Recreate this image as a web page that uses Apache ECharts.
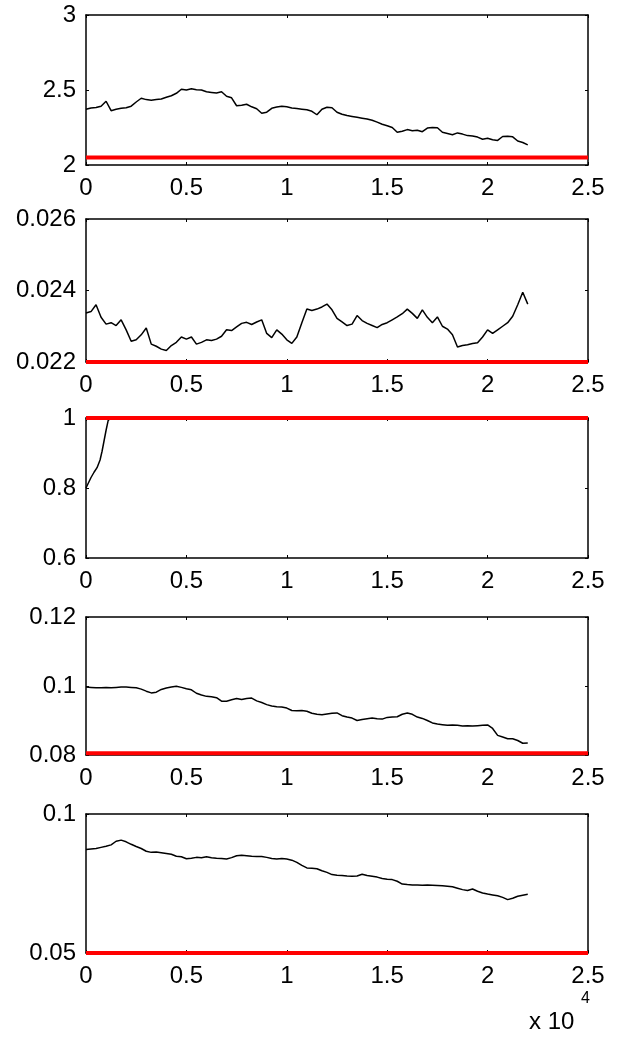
<!DOCTYPE html>
<html>
<head>
<meta charset="utf-8">
<title>subplots</title>
<script src="https://cdn.jsdelivr.net/npm/echarts@6.0.0/dist/echarts.min.js"></script>
<style>
html, body { margin: 0; padding: 0; background: #fff; }
#main { width: 621px; height: 1044px; }
</style>
</head>
<body>
<div id="main"></div>
<script>
// sample positions (shown on the axis as x 10^4)
var sampleX = [0,250,500,750,1000,1250,1500,1750,2000,2250,2500,2750,3000,3250,3500,3750,4000,4250,4500,4750,
  5000,5250,5500,5750,6000,6250,6500,6750,7000,7250,7500,7750,8000,8250,8500,8750,9000,9250,9500,9750,
  10000,10250,10500,10750,11000,11250,11500,11750,12000,12250,12500,12750,13000,13250,13500,13750,14000,14250,14500,14750,
  15000,15250,15500,15750,16000,16250,16500,16750,17000,17250,17500,17750,18000,18250,18500,18750,19000,19250,19500,19750,
  20000,20250,20500,20750,21000,21250,21500,21750,22000];

var panel1 = [2.372,2.380,2.384,2.392,2.425,2.362,2.372,2.378,2.382,2.392,
  2.420,2.445,2.436,2.432,2.436,2.440,2.452,2.462,2.478,2.505,
  2.500,2.508,2.502,2.500,2.488,2.484,2.480,2.488,2.458,2.448,
  2.395,2.398,2.405,2.388,2.375,2.345,2.352,2.378,2.386,2.392,
  2.388,2.380,2.376,2.372,2.368,2.358,2.335,2.372,2.385,2.382,
  2.352,2.338,2.330,2.324,2.318,2.312,2.306,2.298,2.286,2.272,
  2.262,2.250,2.218,2.225,2.236,2.228,2.232,2.222,2.246,2.250,
  2.248,2.218,2.210,2.202,2.214,2.206,2.196,2.194,2.186,2.172,
  2.178,2.168,2.164,2.190,2.192,2.188,2.160,2.150,2.134];

var panel2 = [0.02337,0.02341,0.02360,0.02325,0.02306,0.02310,0.02302,0.02318,0.02290,0.02258,
  0.02262,0.02276,0.02295,0.02250,0.02244,0.02236,0.02232,0.02246,0.02255,0.02270,
  0.02264,0.02270,0.02250,0.02255,0.02262,0.02260,0.02264,0.02272,0.02290,0.02288,
  0.02298,0.02308,0.02311,0.02305,0.02312,0.02318,0.02280,0.02268,0.02290,0.02278,
  0.02262,0.02252,0.02270,0.02310,0.02348,0.02344,0.02348,0.02354,0.02362,0.02346,
  0.02322,0.02312,0.02302,0.02306,0.02330,0.02316,0.02308,0.02302,0.02296,0.02305,
  0.02310,0.02318,0.02326,0.02335,0.02348,0.02336,0.02322,0.02346,0.02325,0.02310,
  0.02326,0.02300,0.02292,0.02276,0.02242,0.02246,0.02248,0.02252,0.02254,0.02270,
  0.02290,0.02280,0.02290,0.02300,0.02310,0.02328,0.02360,0.02395,0.02362];

// panel 3 climbs to 1 almost at once, then sits under the red line
var panel3X = [0,100,250,400,550,700,800,900,1000,1100,1200,22000];
var panel3 = [0.800,0.812,0.830,0.845,0.858,0.880,0.905,0.935,0.965,0.992,1.0,1.0];

var panel4 = [0.0997,0.0996,0.0995,0.0995,0.0996,0.0995,0.0996,0.0997,0.0997,0.0996,
  0.0995,0.0991,0.0985,0.0980,0.0982,0.0990,0.0994,0.0997,0.0999,0.0996,
  0.0992,0.0989,0.0979,0.0974,0.0970,0.0969,0.0966,0.0956,0.0956,0.0960,
  0.0964,0.0961,0.0964,0.0965,0.0957,0.0952,0.0946,0.0942,0.0940,0.0939,
  0.0936,0.0929,0.0928,0.0929,0.0927,0.0921,0.0918,0.0917,0.0919,0.0921,
  0.0922,0.0914,0.0910,0.0907,0.0900,0.0903,0.0905,0.0907,0.0905,0.0904,
  0.0909,0.0910,0.0911,0.0918,0.0922,0.0918,0.0910,0.0906,0.0900,0.0893,
  0.0890,0.0888,0.0886,0.0887,0.0886,0.0884,0.0885,0.0884,0.0885,0.0886,
  0.0887,0.0877,0.0857,0.0852,0.0847,0.0847,0.0842,0.0834,0.0835];

var panel5 = [0.0872,0.0874,0.0876,0.0880,0.0884,0.0889,0.0902,0.0906,0.0900,0.0891,
  0.0883,0.0876,0.0866,0.0862,0.0863,0.0861,0.0858,0.0855,0.0848,0.0846,
  0.0839,0.0841,0.0844,0.0843,0.0846,0.0843,0.0841,0.0840,0.0838,0.0843,
  0.0850,0.0852,0.0850,0.0848,0.0847,0.0847,0.0844,0.0840,0.0838,0.0840,
  0.0838,0.0834,0.0826,0.0815,0.0806,0.0805,0.0803,0.0796,0.0790,0.0782,
  0.0780,0.0779,0.0777,0.0776,0.0777,0.0783,0.0779,0.0776,0.0773,0.0768,
  0.0765,0.0764,0.0758,0.0748,0.0746,0.0745,0.0745,0.0744,0.0745,0.0744,
  0.0743,0.0742,0.0740,0.0738,0.0733,0.0728,0.0725,0.0730,0.0722,0.0716,
  0.0712,0.0709,0.0706,0.0700,0.0692,0.0697,0.0704,0.0708,0.0711];

// red reference levels, one per panel
var refLevels = [2.05, 0.022, 1, 0.0805, 0.05];

// axis ranges
var xRange = [0, 25000];
var xStep = 5000;
var yMin = [2, 0.022, 0.6, 0.08, 0.05];
var yMax = [3, 0.026, 1, 0.12, 0.1];
var yStep = [0.5, 0.002, 0.2, 0.02, 0.05];

// layout
var gridTop = [15, 219, 418, 617, 814];
var gridHeight = [150, 143, 140, 138, 139];
var FS = 24;
var FONT = "'Liberation Sans', Arial, sans-serif";

var curves = [
  sampleX.map(function (x, i) { return [x, panel1[i]]; }),
  sampleX.map(function (x, i) { return [x, panel2[i]]; }),
  panel3X.map(function (x, i) { return [x, panel3[i]]; }),
  sampleX.map(function (x, i) { return [x, panel4[i]]; }),
  sampleX.map(function (x, i) { return [x, panel5[i]]; })
];

var grids = [], xAxes = [], yAxes = [], series = [];
var lineStyle = { color: '#000', width: 1.5 };

for (var i = 0; i < 5; i++) {
  grids.push({ left: 86, right: 33, top: gridTop[i], height: gridHeight[i], outerBoundsMode: 'none' });

  // bottom axis with labels, top axis only for the mirrored ticks
  ['bottom', 'top'].forEach(function (pos) {
    xAxes.push({
      gridIndex: i, type: 'value', position: pos,
      min: xRange[0], max: xRange[1], interval: xStep,
      axisLine: { show: true, onZero: false, lineStyle: lineStyle },
      axisTick: { show: true, inside: true, length: 3, lineStyle: { color: '#000', width: 1 } },
      axisLabel: {
        show: pos === 'bottom', color: '#000', fontSize: FS, fontFamily: FONT, margin: 11,
        formatter: function (v) { return String(v / 10000); }
      },
      splitLine: { show: false }
    });
  });

  ['left', 'right'].forEach(function (pos) {
    yAxes.push({
      gridIndex: i, type: 'value', position: pos,
      min: yMin[i], max: yMax[i], interval: yStep[i],
      axisLine: { show: true, onZero: false, lineStyle: lineStyle },
      axisTick: { show: true, inside: true, length: 3, lineStyle: { color: '#000', width: 1 } },
      axisLabel: { show: pos === 'left', color: '#000', fontSize: FS, fontFamily: FONT, margin: 10 },
      splitLine: { show: false }
    });
  });

  series.push({
    type: 'line', xAxisIndex: i * 2, yAxisIndex: i * 2,
    data: curves[i], symbol: 'none',
    lineStyle: { color: '#000', width: 1.5 }
  });
  series.push({
    type: 'line', xAxisIndex: i * 2, yAxisIndex: i * 2,
    data: [[xRange[0], refLevels[i]], [xRange[1], refLevels[i]]],
    symbol: 'none', clip: false,
    lineStyle: { color: '#ff0000', width: 4 }
  });
}

var chart = echarts.init(document.getElementById('main'));
chart.setOption({
  animation: false,
  backgroundColor: '#fff',
  grid: grids,
  xAxis: xAxes,
  yAxis: yAxes,
  series: series,
  graphic: [
    { type: 'text', left: 529, top: 1010, style: { text: 'x 10', fontSize: FS, fontFamily: FONT, fill: '#000' } },
    { type: 'text', left: 581, top: 991, style: { text: '4', fontSize: 16, fontFamily: FONT, fill: '#000' } }
  ]
});
window.addEventListener('resize', function () { chart.resize(); });
</script>
</body>
</html>
